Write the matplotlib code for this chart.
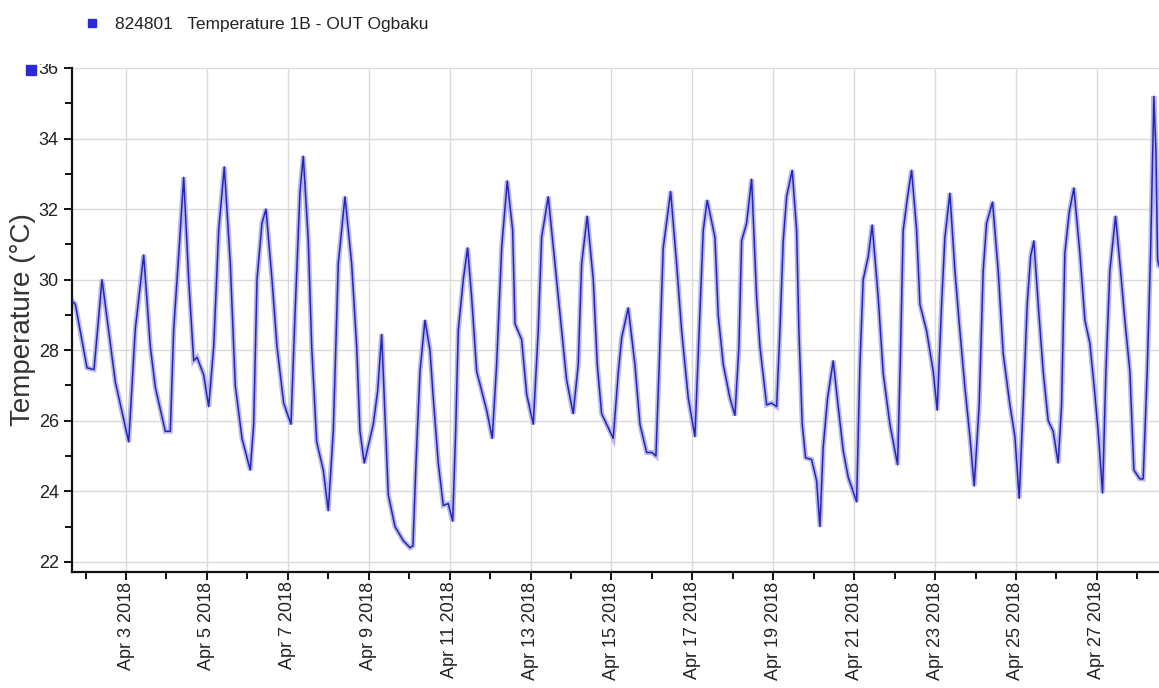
import datetime as dt
import matplotlib
matplotlib.use("Agg")
import matplotlib.pyplot as plt
import matplotlib.dates as mdates
from matplotlib.ticker import MultipleLocator, FuncFormatter
from matplotlib.lines import Line2D
from matplotlib.patches import Rectangle

# ---- data (day of April 2018 with fraction, temperature in degC) ----
day_of_april = [
    1.665, 1.747, 2.036, 2.209, 2.407, 2.736, 3.067, 3.230, 3.437, 3.601,
    3.724, 3.971, 4.095, 4.179, 4.303, 4.426, 4.550, 4.673, 4.755, 4.920,
    5.044, 5.168, 5.291, 5.430, 5.578, 5.701, 5.867, 6.072, 6.156, 6.238,
    6.361, 6.460, 6.609, 6.732, 6.898, 7.078, 7.177, 7.301, 7.382, 7.506,
    7.590, 7.713, 7.877, 8.000, 8.124, 8.247, 8.413, 8.578, 8.702, 8.783,
    8.890, 9.112, 9.221, 9.320, 9.384, 9.483, 9.649, 9.854, 10.019, 10.093,
    10.168, 10.267, 10.390, 10.514, 10.595, 10.719, 10.842, 10.966, 11.075, 11.149,
    11.213, 11.337, 11.445, 11.544, 11.668, 11.791, 11.915, 12.054, 12.162, 12.286,
    12.424, 12.558, 12.615, 12.780, 12.904, 13.067, 13.190, 13.274, 13.438, 13.603,
    13.769, 13.892, 14.055, 14.179, 14.263, 14.401, 14.550, 14.649, 14.757, 14.921,
    15.044, 15.168, 15.252, 15.415, 15.580, 15.704, 15.870, 15.999, 16.099, 16.181,
    16.280, 16.463, 16.611, 16.735, 16.898, 17.063, 17.170, 17.269, 17.367, 17.558,
    17.639, 17.763, 17.928, 18.052, 18.151, 18.218, 18.341, 18.465, 18.588, 18.670,
    18.836, 18.959, 19.083, 19.164, 19.246, 19.330, 19.468, 19.577, 19.634, 19.716,
    19.799, 19.948, 20.071, 20.153, 20.234, 20.343, 20.482, 20.605, 20.729, 20.852,
    21.060, 21.142, 21.223, 21.347, 21.445, 21.594, 21.717, 21.883, 22.073, 22.138,
    22.212, 22.320, 22.419, 22.543, 22.625, 22.790, 22.953, 23.052, 23.161, 23.243,
    23.366, 23.490, 23.613, 23.737, 23.860, 23.967, 24.090, 24.189, 24.273, 24.421,
    24.560, 24.684, 24.849, 24.973, 25.079, 25.178, 25.277, 25.361, 25.442, 25.549,
    25.672, 25.796, 25.919, 26.043, 26.127, 26.208, 26.315, 26.431, 26.579, 26.703,
    26.826, 26.950, 27.031, 27.140, 27.222, 27.320, 27.461, 27.585, 27.691, 27.815,
    27.914, 28.062, 28.144, 28.243, 28.327, 28.408, 28.458, 28.500, 28.530,
]
temperature_c = [
    29.4, 29.3, 27.5, 27.45, 30.0, 27.1, 25.4, 28.6, 30.7, 28.1,
    26.95, 25.7, 25.7, 28.6, 30.7, 32.9, 30.0, 27.7, 27.8, 27.3,
    26.4, 28.1, 31.4, 33.2, 30.45, 27.0, 25.5, 24.6, 25.9, 30.0,
    31.6, 32.0, 30.0, 28.1, 26.5, 25.9, 29.0, 32.5, 33.5, 31.1,
    28.1, 25.4, 24.6, 23.45, 25.7, 30.45, 32.35, 30.45, 28.1, 25.7,
    24.8, 25.9, 26.85, 28.45, 26.65, 23.9, 23.0, 22.6, 22.4, 22.45,
    24.8, 27.4, 28.85, 28.0, 26.65, 24.8, 23.6, 23.65, 23.15, 25.7,
    28.55, 30.0, 30.9, 29.5, 27.4, 26.85, 26.3, 25.5, 27.6, 30.9,
    32.8, 31.4, 28.75, 28.3, 26.75, 25.9, 28.55, 31.2, 32.35, 30.45,
    28.55, 27.15, 26.2, 27.6, 30.45, 31.8, 30.0, 27.6, 26.2, 25.8,
    25.5, 27.35, 28.35, 29.2, 27.6, 25.9, 25.1, 25.1, 25.0, 27.6,
    30.9, 32.5, 30.45, 28.55, 26.65, 25.55, 28.55, 31.4, 32.25, 31.2,
    29.0, 27.6, 26.65, 26.15, 28.1, 31.1, 31.6, 32.85, 29.5, 28.1,
    26.45, 26.5, 26.4, 28.55, 31.1, 32.35, 33.1, 31.4, 28.55, 25.9,
    24.95, 24.9, 24.3, 23.0, 25.25, 26.65, 27.7, 26.4, 25.15, 24.4,
    23.7, 27.6, 30.0, 30.65, 31.55, 29.5, 27.35, 25.9, 24.75, 27.6,
    31.4, 32.35, 33.1, 31.4, 29.3, 28.55, 27.4, 26.3, 29.3, 31.2,
    32.45, 30.25, 28.55, 26.95, 25.55, 24.15, 26.45, 30.25, 31.6, 32.2,
    30.25, 27.9, 26.45, 25.55, 23.8, 26.45, 29.3, 30.65, 31.1, 29.3,
    27.4, 26.0, 25.7, 24.8, 26.45, 30.75, 31.9, 32.6, 30.75, 28.85,
    28.2, 26.75, 25.7, 23.95, 27.4, 30.25, 31.8, 30.25, 28.85, 27.4,
    24.6, 24.35, 24.35, 27.4, 30.75, 35.2, 33.7, 30.6, 30.4,
]
series_label = "824801   Temperature 1B - OUT Ogbaku"
y_label = "Temperature (\u00b0C)"
y_range = (21.72, 36.0)
x_range_days = (1.665, 28.535)

base = dt.datetime(2018, 3, 31)
times = [base + dt.timedelta(days=d) for d in day_of_april]

plt.rcParams["font.family"] = ["Liberation Sans", "DejaVu Sans"]

W, H = 1159, 688
fig = plt.figure(figsize=(W / 100, H / 100), dpi=100)
ax = fig.add_axes([72 / W, 1 - 571.7 / H, 1 - 72 / W, (571.7 - 68) / H])

line_dark = "#2626b4"
line_light = "#b9b9f0"
ax.plot(times, temperature_c, color=line_light, lw=3.6, solid_joinstyle="miter", zorder=2)
ax.plot(times, temperature_c, color=line_dark, lw=1.1, zorder=3)

ax.set_xlim(base + dt.timedelta(days=x_range_days[0]), base + dt.timedelta(days=x_range_days[1]))
ax.set_ylim(*y_range)

ax.yaxis.set_major_locator(MultipleLocator(2))
ax.yaxis.set_minor_locator(MultipleLocator(1))
ax.xaxis.set_major_locator(mdates.DayLocator(bymonthday=range(3, 31, 2)))
ax.xaxis.set_minor_locator(mdates.DayLocator(bymonthday=range(2, 31, 2)))
ax.xaxis.set_major_formatter(FuncFormatter(
    lambda v, p: (lambda t: f"{t:%b} {t.day} {t.year}")(mdates.num2date(v))))

ax.grid(True, which="major", color="#dadada", lw=1.0, zorder=0)
for s in ("top", "right"):
    ax.spines[s].set_visible(False)
for s in ("left", "bottom"):
    ax.spines[s].set_linewidth(1.6)
    ax.spines[s].set_color("#111111")

ax.tick_params(axis="both", which="both", direction="out", color="#111111", width=1.4)
ax.tick_params(axis="both", which="major", length=6, labelsize=13, labelcolor="#222222")
ax.tick_params(axis="both", which="minor", length=5)
ax.tick_params(axis="x", which="major", pad=1)
for lab in ax.get_xticklabels():
    lab.set_rotation(90)

ax.set_ylabel(y_label, fontsize=20, color="#333333", labelpad=2)

# the top "36" tick label is partly hidden in the reference
fig.add_artist(Rectangle((34 / W, 1 - 64 / H), 34 / W, 16 / H, transform=fig.transFigure,
                         facecolor="white", edgecolor="none", zorder=10))

square = "#2a2ad6"
fig.add_artist(Line2D([31 / W], [1 - 70 / H], marker="s", markersize=6.5, zorder=11,
                      color=square, linestyle="none", transform=fig.transFigure))
fig.legend(handles=[Line2D([], [], marker="s", markersize=5.5, color=square, linestyle="none")],
           labels=[series_label], loc="upper left", bbox_to_anchor=(68 / W, 1 - 1 / H),
           frameon=False, fontsize=12.5, handletextpad=0.8, handlelength=1.0,
           labelcolor="#222222")

fig.savefig("out.png", dpi=100)
